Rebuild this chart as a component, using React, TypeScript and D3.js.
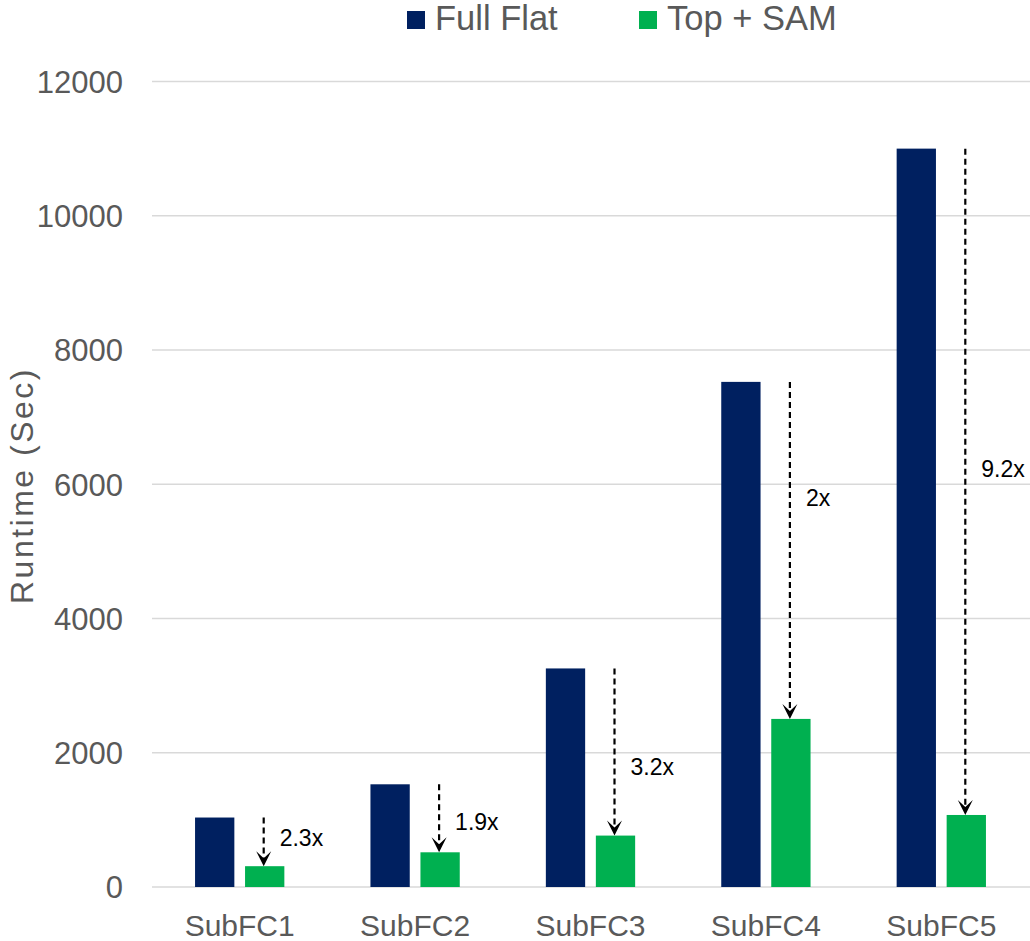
import React from 'react';
import * as d3 from 'd3';

const categories = ['SubFC1', 'SubFC2', 'SubFC3', 'SubFC4', 'SubFC5'];
const seriesNames = ['Full Flat', 'Top + SAM'];
const fullFlat = [1035, 1530, 3256, 7525, 11000];
const topSam = [310, 517, 766, 2504, 1073];
const speedupLabels = ['2.3x', '1.9x', '3.2x', '2x', '9.2x'];
const speedupLabelAt = [611, 850, 1670, 5680, 6110]; // in runtime units
const yTicks = [0, 2000, 4000, 6000, 8000, 10000, 12000];

const W = 1030;
const H = 941;
const colors = ['#002060', '#00B050'];
const gray = '#595959';
const font = 'Arial, "Liberation Sans", sans-serif';

function Arrow({x, y0, y1}: {x: number; y0: number; y1: number}) {
  // dashed shaft, then a notched head whose tip sits on the green bar
  return (
    <g>
      <line x1={x} x2={x} y1={y0} y2={y1 - 7} stroke={'black'} strokeWidth={2.2} strokeDasharray={'6,4'} />
      <path d={`M${x - 7.5},${y1 - 15} L${x},${y1} L${x + 7.5},${y1 - 15} L${x},${y1 - 8} Z`} fill={'black'} />
    </g>
  );
}

export default function App() {
  const x = d3.scaleBand().domain(categories).range([152, 1029]).padding(0);
  const y = d3.scaleLinear().domain([0, 12000]).range([887, 81.5]);
  const inner = d3.scaleBand().domain(seriesNames).range([0, 89.3]).paddingInner(0.214);
  const values = [fullFlat, topSam];

  return (
    <svg width={W} height={H} style={{position: 'absolute', left: 0, top: 0, background: 'white'}} fontFamily={font}>
      {/* grid */}
      {yTicks.map(t => (
        <g key={t}>
          <line x1={152} x2={W} y1={y(t)} y2={y(t)} stroke={'#d9d9d9'} strokeWidth={1.5} />
          <text x={123} y={y(t) + 11.3} textAnchor={'end'} fontSize={31} fill={gray}>
            {t}
          </text>
        </g>
      ))}

      {/* bars */}
      {categories.map((c, i) => {
        const left = x(c)! + x.bandwidth() / 2 - 44.65;
        return (
          <g key={c}>
            {seriesNames.map((s, j) => (
              <rect
                key={s}
                x={left + inner(s)!}
                y={y(values[j][i])}
                width={inner.bandwidth()}
                height={y(0) - y(values[j][i])}
                fill={colors[j]}
              />
            ))}
          </g>
        );
      })}

      {/* speedup arrows */}
      {categories.map((c, i) => {
        const left = x(c)! + x.bandwidth() / 2 - 44.65;
        const ax = left + inner('Top + SAM')! + inner.bandwidth() / 2 - 1;
        return (
          <g key={c}>
            <Arrow x={ax} y0={y(fullFlat[i])} y1={y(topSam[i])} />
            <text x={ax + 16} y={y(speedupLabelAt[i])} fontSize={23} fill={'black'}>
              {speedupLabels[i]}
            </text>
          </g>
        );
      })}

      {/* category labels */}
      {categories.map(c => (
        <text key={c} x={x(c)! + x.bandwidth() / 2} y={936} textAnchor={'middle'} fontSize={30} fill={gray}>
          {c}
        </text>
      ))}

      {/* y axis title */}
      <text
        transform={`translate(33,485.5) rotate(-90)`}
        textAnchor={'middle'}
        fontSize={32}
        letterSpacing={2.5}
        fill={gray}>
        Runtime (Sec)
      </text>

      {/* legend */}
      {seriesNames.map((s, j) => {
        const lx = [407, 639][j];
        return (
          <g key={s}>
            <rect x={lx} y={11} width={18} height={18} fill={colors[j]} />
            <text x={lx + 28} y={30} fontSize={34.5} fill={gray}>
              {s}
            </text>
          </g>
        );
      })}
    </svg>
  );
}
